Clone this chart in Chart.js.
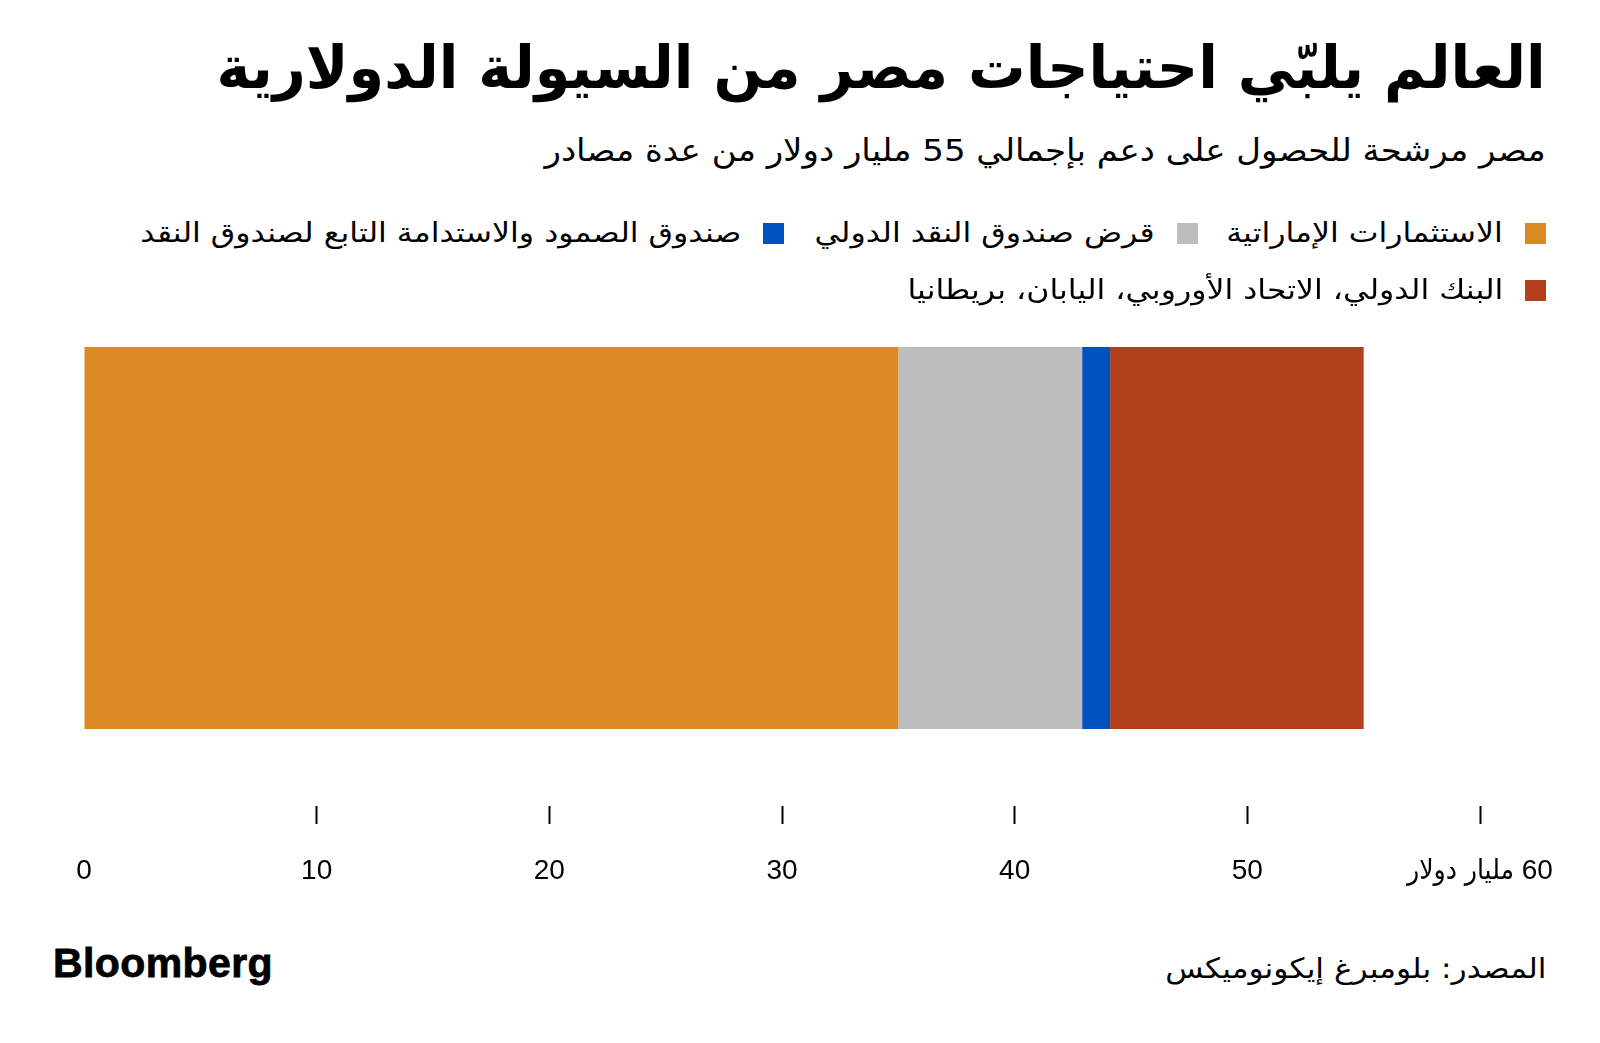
<!DOCTYPE html>
<html lang="ar">
<head>
<meta charset="utf-8">
<script src="https://cdn.jsdelivr.net/npm/chart.js@4.4.1/dist/chart.umd.min.js"></script>
<style>
  html, body { margin: 0; padding: 0; background: #fff; }
  body { width: 1600px; height: 1043px; position: relative; overflow: hidden; font-family: 'DejaVu Sans Condensed', 'DejaVu Sans', sans-serif; color: #000; }
  .rtl { direction: rtl; position: absolute; white-space: nowrap; transform-origin: right center; }
  #title { right: 54px; top: 28px; font-size: 59px; font-weight: bold; line-height: 80px; transform: scaleX(1.08); }
  #subtitle { right: 54px; top: 128px; font-size: 31px; line-height: 44px; transform: scaleX(1.22); }
  .sw { position: absolute; width: 21px; height: 21px; }
  .lt { font-size: 27px; line-height: 40px; transform: scaleX(1.3); z-index: 2; }
  #chartwrap { position: absolute; left: 0; top: 260px; width: 1600px; height: 660px; z-index: 1; }
  #logo { position: absolute; left: 53px; top: 939px; font-family: 'Liberation Sans', Arial, sans-serif; font-weight: bold; font-size: 41px; letter-spacing: 0.4px; line-height: 48px; -webkit-text-stroke: 0.8px #000; }
  #source { right: 54px; top: 949px; font-size: 28px; line-height: 40px; transform: scaleX(1.24); }
</style>
</head>
<body>
<div id="title" class="rtl"></div>
<div id="subtitle" class="rtl"></div>
<div id="legend"></div>
<div id="chartwrap"><canvas id="c" width="1600" height="660" dir="rtl"></canvas></div>
<div id="logo">Bloomberg</div>
<div id="source" class="rtl"></div>
<script>
// ---- data ----
const titleText = 'العالم يلبّي احتياجات مصر من السيولة الدولارية';
const subtitleText = 'مصر مرشحة للحصول على دعم بإجمالي 55 مليار دولار من عدة مصادر';
const sourceText = 'المصدر: بلومبرغ إيكونوميكس';
const categories = ['مصر'];
const seriesNames = [
  'الاستثمارات الإماراتية',
  'قرض صندوق النقد الدولي',
  'صندوق الصمود والاستدامة التابع لصندوق النقد',
  'البنك الدولي، الاتحاد الأوروبي، اليابان، بريطانيا'
];
const uaeInvestments = [35];
const imfLoan = [7.9];
const imfResilienceFund = [1.2];
const otherLenders = [10.9];
const seriesColors = ['#DB8922', '#BDBDBD', '#0053BF', '#B2401D'];
const tickValues = [0, 10, 20, 30, 40, 50, 60];
const unitLabel = 'مليار دولار';

// ---- text ----
document.getElementById('title').textContent = titleText;
document.getElementById('subtitle').textContent = subtitleText;
document.getElementById('source').textContent = sourceText;

// legend layout (right edge of swatch, row top)
const legendPos = [
  { right: 54, top: 223 },
  { right: 402, top: 223 },
  { right: 816, top: 223 },
  { right: 54, top: 280 }
];
const legend = document.getElementById('legend');
legendPos.forEach((p, i) => {
  const s = document.createElement('div');
  s.className = 'sw';
  s.style.right = p.right + 'px';
  s.style.top = p.top + 'px';
  s.style.background = seriesColors[i];
  legend.appendChild(s);
  const t = document.createElement('div');
  t.className = 'rtl lt';
  t.style.right = (p.right + 43) + 'px';
  t.style.top = (p.top - 10) + 'px';
  t.textContent = seriesNames[i];
  legend.appendChild(t);
});

// ---- chart ----
const seriesData = [uaeInvestments, imfLoan, imfResilienceFund, otherLenders];
const datasets = seriesData.map((arr, i) => ({
  label: seriesNames[i],
  data: arr,
  backgroundColor: seriesColors[i],
  borderWidth: 0,
  barPercentage: 1,
  categoryPercentage: 0.7127
}));

new Chart(document.getElementById('c'), {
  type: 'bar',
  data: { labels: categories, datasets },
  options: {
    indexAxis: 'y',
    responsive: false,
    animation: false,
    layout: { padding: { left: 84, right: 120, top: 10, bottom: 0 } },
    plugins: { legend: { display: false }, tooltip: { enabled: false } },
    scales: {
      x: {
        stacked: true,
        min: tickValues[0],
        max: tickValues[tickValues.length - 1],
        afterBuildTicks: (s) => { s.ticks = tickValues.map(v => ({ value: v })); },
        afterFit: (s) => { s.height = 114; },
        border: { display: false },
        grid: {
          drawOnChartArea: false,
          drawTicks: true,
          tickLength: 18,
          tickWidth: 2,
          tickColor: (ctx) => (ctx.tick && ctx.tick.value === 0) ? 'rgba(0,0,0,0)' : '#000'
        },
        ticks: {
          color: '#000',
          padding: 30,
          maxRotation: 0,
          autoSkip: false,
          font: { family: "'Liberation Sans', 'DejaVu Sans Condensed', 'DejaVu Sans', sans-serif", size: 28 },
          callback: (v) => v === tickValues[tickValues.length - 1] ? v + ' ' + unitLabel : String(v)
        }
      },
      y: { stacked: true, display: false }
    }
  }
});
</script>
</body>
</html>
